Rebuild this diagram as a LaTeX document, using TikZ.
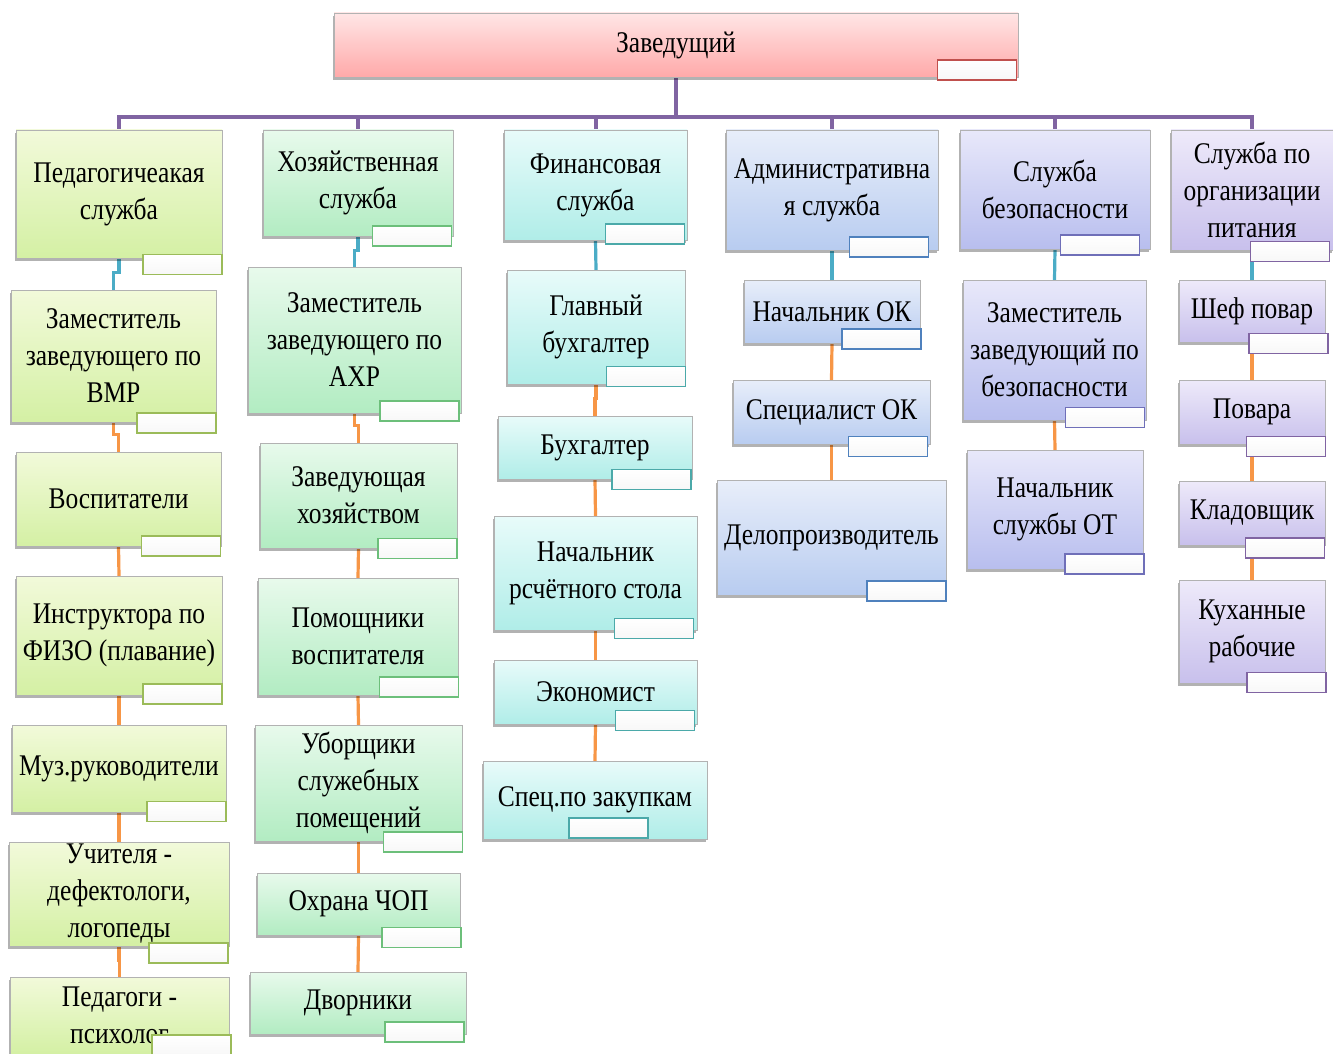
\documentclass[tikz,border=0pt]{standalone}
\usepackage{fontspec}
\setmainfont{Liberation Serif}[FakeStretch=0.85]
\usetikzlibrary{shadows,backgrounds}

\definecolor{zavtop}{HTML}{FFE6E6}
\definecolor{zavbot}{HTML}{FFA9A9}
\definecolor{pedtop}{HTML}{F2FADA}
\definecolor{pedbot}{HTML}{D4F0A4}
\definecolor{hoztop}{HTML}{E8FAEC}
\definecolor{hozbot}{HTML}{B2ECC2}
\definecolor{fintop}{HTML}{E8FBFA}
\definecolor{finbot}{HTML}{B0EDE8}
\definecolor{admtop}{HTML}{E8EEFA}
\definecolor{admbot}{HTML}{B8CCF0}
\definecolor{beztop}{HTML}{E8E8FA}
\definecolor{bezbot}{HTML}{B8BEEE}
\definecolor{pittop}{HTML}{EEEAFA}
\definecolor{pitbot}{HTML}{C8C0EC}
\definecolor{buspurple}{HTML}{8064A2}
\definecolor{headblue}{HTML}{4BACC6}
\definecolor{suborange}{HTML}{F79646}
\definecolor{zavedge}{HTML}{C0504D}
\definecolor{pededge}{HTML}{9BBB59}
\definecolor{hozedge}{HTML}{6CBF7A}
\definecolor{finedge}{HTML}{4BA9A9}
\definecolor{admedge}{HTML}{4F81BD}
\definecolor{bezedge}{HTML}{6F6FB8}

\begin{document}
\begin{tikzpicture}[x=1pt, y=-1pt,
        font=\fontsize{30}{37}\selectfont,
        orgbox/.style={draw=gray!60, align=center, inner sep=2pt,
            drop shadow={shadow xshift=-1.5pt, shadow yshift=-3pt, opacity=0.3, fill=black}},
        zavbox/.style={orgbox, top color=zavtop, bottom color=zavbot},
        pedbox/.style={orgbox, top color=pedtop, bottom color=pedbot},
        hozbox/.style={orgbox, top color=hoztop, bottom color=hozbot},
        finbox/.style={orgbox, top color=fintop, bottom color=finbot},
        admbox/.style={orgbox, top color=admtop, bottom color=admbot},
        bezbox/.style={orgbox, top color=beztop, bottom color=bezbot},
        pitbox/.style={orgbox, top color=pittop, bottom color=pitbot},
        tab/.style={draw=#1, line width=1.6pt, top color=white, bottom color=gray!6,
            minimum width=79pt, minimum height=20pt, inner sep=0pt},
        busline/.style={draw=buspurple, line width=4pt},
        headline/.style={draw=headblue, line width=3.2pt},
        subline/.style={draw=suborange, line width=3.2pt},
]
        \useasboundingbox (0,0) rectangle (1333,1054);

        % top
        \node[zavbox, minimum width=684pt, minimum height=64pt] (zav) at (676,45) {Заведущий};
        \node[tab=zavedge] (zav-t) at (977,70) {};

        % pedagogical service
        \node[pedbox, minimum width=206pt, minimum height=128pt] (ped) at (119,194) {Педагогичеакая\\служба};
        \node[tab=pededge] (ped-t) at (182.5,264.5) {};
        \node[pedbox, minimum width=205pt, minimum height=132pt] (vmr) at (113.5,356) {Заместитель\\заведующего по\\ВМР};
        \node[tab=pededge] (vmr-t) at (176.5,423) {};
        \node[pedbox, minimum width=205pt, minimum height=94pt] (vosp) at (118.5,499) {Воспитатели};
        \node[tab=pededge] (vosp-t) at (181,546) {};
        \node[pedbox, minimum width=206pt, minimum height=119pt] (fizo) at (119,635.5) {Инструктора по\\ФИЗО (плавание)};
        \node[tab=pededge] (fizo-t) at (182.5,694) {};
        \node[pedbox, minimum width=214pt, minimum height=87pt] (muz) at (119,768.5) {Муз.руководители};
        \node[tab=pededge] (muz-t) at (186.5,811.5) {};
        \node[pedbox, minimum width=220pt, minimum height=102pt] (ucht) at (119,894) {Учителя -\\дефектологи,\\логопеды};
        \node[tab=pededge] (ucht-t) at (188.5,953) {};
        \node[pedbox, minimum width=219pt, minimum height=77pt] (psih) at (119.5,1015.5) {Педагоги -\\психолог};
        \node[tab=pededge] (psih-t) at (191.5,1045) {};

        % household service
        \node[hozbox, minimum width=190pt, minimum height=106pt] (hoz) at (358,183) {Хозяйственная\\служба};
        \node[tab=hozedge] (hoz-t) at (412,236) {};
        \node[hozbox, minimum width=213pt, minimum height=146pt] (ahr) at (354.5,340) {Заместитель\\заведующего по\\АХР};
        \node[tab=hozedge] (ahr-t) at (419.5,411) {};
        \node[hozbox, minimum width=197pt, minimum height=105pt] (zavh) at (358.5,495.5) {Заведующая\\хозяйством};
        \node[tab=hozedge] (zavh-t) at (417.5,548.5) {};
        \node[hozbox, minimum width=200pt, minimum height=117pt] (pom) at (358,636.5) {Помощники\\воспитателя};
        \node[tab=hozedge] (pom-t) at (419,687) {};
        \node[hozbox, minimum width=207pt, minimum height=116pt] (ubor) at (358.5,783) {Уборщики\\служебных\\помещений};
        \node[tab=hozedge] (ubor-t) at (423,842) {};
        \node[hozbox, minimum width=203pt, minimum height=62pt] (chop) at (358.5,904) {Охрана ЧОП};
        \node[tab=hozedge] (chop-t) at (421.5,937.5) {};
        \node[hozbox, minimum width=216pt, minimum height=62pt] (dvor) at (358,1003) {Дворники};
        \node[tab=hozedge] (dvor-t) at (424.5,1032) {};

        % finance service
        \node[finbox, minimum width=183pt, minimum height=110pt] (fin) at (595.5,185) {Финансовая\\служба};
        \node[tab=finedge] (fin-t) at (645,234) {};
        \node[finbox, minimum width=178pt, minimum height=114pt] (glb) at (596,327) {Главный\\бухгалтер};
        \node[tab=finedge] (glb-t) at (646,376.5) {};
        \node[finbox, minimum width=194pt, minimum height=63pt] (buh) at (595,447.5) {Бухгалтер};
        \node[tab=finedge] (buh-t) at (651.5,479.5) {};
        \node[finbox, minimum width=203pt, minimum height=114pt] (nrs) at (595.5,573) {Начальник\\рсчётного стола};
        \node[tab=finedge] (nrs-t) at (654,628.5) {};
        \node[finbox, minimum width=203pt, minimum height=64pt] (econ) at (595.5,692) {Экономист};
        \node[tab=finedge] (econ-t) at (655,720.5) {};
        \node[finbox, minimum width=224pt, minimum height=78pt] (zak) at (595,800) {Спец.по закупкам};
        \node[tab=finedge] (zak-t) at (608.5,828) {};

        % administrative service
        \node[admbox, minimum width=212pt, minimum height=120pt] (adm) at (832,190) {Административна\\я служба};
        \node[tab=admedge] (adm-t) at (889,247) {};
        \node[admbox, minimum width=176pt, minimum height=63pt] (nok) at (832,311.5) {Начальник ОК};
        \node[tab=admedge] (nok-t) at (881.5,339) {};
        \node[admbox, minimum width=197pt, minimum height=64pt] (sok) at (831.5,412) {Специалист ОК};
        \node[tab=admedge] (sok-t) at (888,446.5) {};
        \node[admbox, minimum width=229pt, minimum height=115pt] (delo) at (831.5,537.5) {Делопроизводитель};
        \node[tab=admedge] (delo-t) at (906.5,591) {};

        % security service
        \node[bezbox, minimum width=190pt, minimum height=119pt] (bez) at (1055,189.5) {Служба\\безопасности};
        \node[tab=bezedge] (bez-t) at (1100,245) {};
        \node[bezbox, minimum width=183pt, minimum height=140pt] (zbez) at (1054.5,350) {Заместитель\\заведующий по\\безопасности};
        \node[tab=bezedge] (zbez-t) at (1105,417.5) {};
        \node[bezbox, minimum width=176pt, minimum height=119pt] (nto) at (1055,509.5) {Начальник\\службы ОТ};
        \node[tab=bezedge] (nto-t) at (1104.5,564) {};

        % catering service
        \node[pitbox, minimum width=162pt, minimum height=120pt] (pit) at (1252,190) {Служба по\\организации\\питания};
        \node[tab=buspurple] (pit-t) at (1290,251.5) {};
        \node[pitbox, minimum width=146pt, minimum height=62pt] (shef) at (1252,311) {Шеф повар};
        \node[tab=buspurple] (shef-t) at (1288.5,343.5) {};
        \node[pitbox, minimum width=146pt, minimum height=64pt] (pov) at (1252,412) {Повара};
        \node[tab=buspurple] (pov-t) at (1286,446.5) {};
        \node[pitbox, minimum width=146pt, minimum height=64pt] (klad) at (1252,513) {Кладовщик};
        \node[tab=buspurple] (klad-t) at (1285,548) {};
        \node[pitbox, minimum width=146pt, minimum height=103pt] (kuh) at (1252,631.5) {Куханные\\рабочие};
        \node[tab=buspurple] (kuh-t) at (1286.5,682.5) {};

        \begin{scope}[on background layer]
            \foreach \n in {ped,hoz,fin,adm,bez,pit}
                \draw[busline] (zav.south) -- ++(0,40) -| (\n.north);

            \draw[headline] (ped.south) -- ++(0,14) -| (vmr.north);
            \draw[subline] (vmr.south) -- ++(0,12) -| (vosp.north);
            \draw[subline] (vosp.south) -- (fizo.north);
            \draw[subline] (fizo.south) -- (muz.north);
            \draw[subline] (muz.south) -- (ucht.north);
            \draw[subline] (ucht.south) -- ++(0,14) -| (psih.north);

            \draw[headline] (hoz.south) -- ++(0,14) -| (ahr.north);
            \draw[subline] (ahr.south) -- ++(0,12) -| (zavh.north);
            \draw[subline] (zavh.south) -- (pom.north);
            \draw[subline] (pom.south) -- (ubor.north);
            \draw[subline] (ubor.south) -- (chop.north);
            \draw[subline] (chop.south) -- (dvor.north);

            \draw[headline] (fin.south) -- (glb.north);
            \draw[subline] (glb.south) -- ++(0,14) -| (buh.north);
            \draw[subline] (buh.south) -- (nrs.north);
            \draw[subline] (nrs.south) -- (econ.north);
            \draw[subline] (econ.south) -- (zak.north);

            \draw[headline] (adm.south) -- (nok.north);
            \draw[subline] (nok.south) -- (sok.north);
            \draw[subline] (sok.south) -- (delo.north);

            \draw[headline] (bez.south) -- (zbez.north);
            \draw[subline] (zbez.south) -- (nto.north);

            \draw[headline] (pit.south) -- (shef.north);
            \draw[subline] (shef.south) -- (pov.north);
            \draw[subline] (pov.south) -- (klad.north);
            \draw[subline] (klad.south) -- (kuh.north);
        \end{scope}
\end{tikzpicture}
\end{document}
